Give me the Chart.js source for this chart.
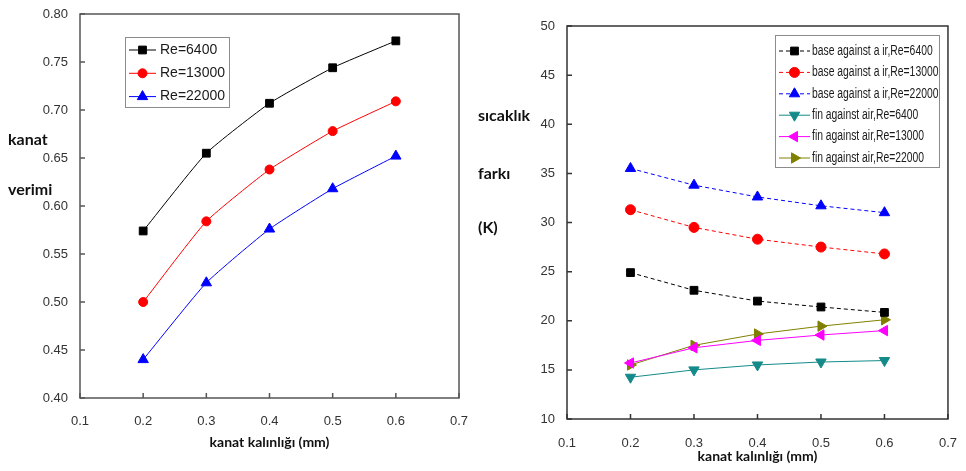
<!DOCTYPE html>
<html>
<head>
<meta charset="utf-8">
<script src="https://cdn.jsdelivr.net/npm/chart.js@4.4.1/dist/chart.umd.min.js"></script>
<style>
  body { margin: 0; background: #fff; }
  #wrap { position: relative; width: 966px; height: 471px; overflow: hidden; }
  canvas { position: absolute; top: 0; }
  #effChart { left: 0; }
  #tempChart { left: 480px; }
  .ytitle { position: absolute; font-family: Lato, 'Noto Sans', sans-serif; font-weight: bold; font-size: 16px; color: #111; line-height: 18px; }
</style>
</head>
<body>
<div id="wrap">
  <canvas id="effChart" width="480" height="471"></canvas>
  <canvas id="tempChart" width="486" height="471"></canvas>
  <div class="ytitle" style="left:8px; top:130px;">kanat</div>
  <div class="ytitle" style="left:8px; top:180px;">verimi</div>
  <div class="ytitle" style="left:478px; top:106px;">sıcaklık</div>
  <div class="ytitle" style="left:478px; top:164px;">farkı</div>
  <div class="ytitle" style="left:478px; top:218px;">(K)</div>
</div>
<script>
// fin thickness (mm) on the x axis of both plots
const thickness = [0.2, 0.3, 0.4, 0.5, 0.6];

// fin efficiency
const effLabels = ['Re=6400', 'Re=13000', 'Re=22000'];
const effRe6400 = [0.574, 0.655, 0.707, 0.744, 0.772];
const effRe13000 = [0.500, 0.584, 0.638, 0.678, 0.709];
const effRe22000 = [0.440, 0.520, 0.576, 0.618, 0.652];

// temperature difference (K)
const tempLabels = [
  'base against a ir,Re=6400', 'base against a ir,Re=13000', 'base against a ir,Re=22000',
  'fin against air,Re=6400', 'fin against air,Re=13000', 'fin against air,Re=22000'
];
const baseRe6400 = [24.9, 23.1, 22.0, 21.4, 20.85];
const baseRe13000 = [31.3, 29.5, 28.3, 27.5, 26.8];
const baseRe22000 = [35.5, 33.8, 32.6, 31.7, 31.0];
const finRe6400 = [14.25, 15.0, 15.5, 15.8, 15.95];
const finRe13000 = [15.7, 17.25, 18.0, 18.55, 19.0];
const finRe22000 = [15.5, 17.5, 18.65, 19.45, 20.1];

const tickFont = { family: "'Liberation Sans', Arial, sans-serif", size: 13 };
const titleFont = { family: "Lato, 'Noto Sans', sans-serif", size: 14, weight: 'bold' };

function series(label, values, color, style, extra) {
  return Object.assign({
    label: label,
    data: values.map((v, i) => ({ x: thickness[i], y: v })),
    borderColor: color,
    backgroundColor: color,
    borderWidth: 1,
    pointStyle: style,
    pointRadius: 5,
    pointRotation: 0,
    pointBorderWidth: 1,
    pointBackgroundColor: color,
    pointBorderColor: color,
    tension: 0
  }, extra || {});
}

// box around the plot, inward tick marks and a legend drawn inside the plot
const framePlugin = {
  id: 'frame',
  afterDraw(chart, args, opts) {
    const ctx = chart.ctx;
    const a = chart.chartArea;
    const xs = chart.scales.x, ys = chart.scales.y;
    ctx.save();
    ctx.strokeStyle = opts.axisColor;
    ctx.lineWidth = 1.5;
    ctx.strokeRect(a.left, a.top, a.right - a.left, a.bottom - a.top);
    ctx.beginPath();
    xs.ticks.forEach(t => {
      const px = xs.getPixelForValue(t.value);
      ctx.moveTo(px, a.bottom); ctx.lineTo(px, a.bottom - 5);
    });
    ys.ticks.forEach(t => {
      const py = ys.getPixelForValue(t.value);
      ctx.moveTo(a.left, py); ctx.lineTo(a.left + 5, py);
    });
    ctx.stroke();

    const lg = opts.legend;
    ctx.lineWidth = 1;
    ctx.strokeStyle = '#8c8c8c';
    ctx.strokeRect(lg.x + 0.5, lg.y + 0.5, lg.w, lg.h);
    chart.data.datasets.forEach((ds, i) => {
      const cy = lg.rowY + i * lg.rowStep;
      ctx.strokeStyle = ds.borderColor;
      ctx.setLineDash(ds.borderDash || []);
      ctx.beginPath(); ctx.moveTo(lg.x0, cy); ctx.lineTo(lg.x1, cy); ctx.stroke();
      ctx.setLineDash([]);
      ctx.fillStyle = ds.backgroundColor;
      Chart.helpers.drawPoint(ctx, {
        pointStyle: ds.pointStyle, radius: ds.pointRadius,
        rotation: ds.pointRotation, borderWidth: 1
      }, (lg.x0 + lg.x1) / 2, cy);
      ctx.fillStyle = '#1a1a1a';
      ctx.font = lg.font;
      ctx.textBaseline = 'middle';
      ctx.fillText(ds.label, lg.textX, cy, ctx.measureText(ds.label).width * lg.squeeze);
    });
    ctx.restore();
  }
};

function axes(xPad, titlePad, xHeight, yWidth, yMin, yMax, yStep, yDigits) {
  return {
    x: {
      type: 'linear', min: 0.1, max: 0.7,
      ticks: { stepSize: 0.1, padding: xPad, color: '#333', font: tickFont, callback: v => v.toFixed(1) },
      grid: { display: false }, border: { display: false },
      title: { display: true, text: 'kanat kalınlığı (mm)', color: '#111', font: titleFont, padding: { top: 0, bottom: titlePad } },
      afterFit: s => { s.height = xHeight; }
    },
    y: {
      min: yMin, max: yMax,
      ticks: { stepSize: yStep, padding: 4, color: '#333', font: tickFont, callback: v => v.toFixed(yDigits) },
      grid: { display: false }, border: { display: false },
      afterFit: s => { s.width = yWidth; }
    }
  };
}

new Chart(document.getElementById('effChart'), {
  type: 'line',
  data: {
    datasets: [
      series(effLabels[0], effRe6400, '#000000', 'rect', { pointRadius: 5.5, tension: 0.15 }),
      series(effLabels[1], effRe13000, '#ff0000', 'circle', { pointRadius: 4.5, tension: 0.15 }),
      series(effLabels[2], effRe22000, '#0000ff', 'triangle', { pointRadius: 6, tension: 0.15 })
    ]
  },
  options: {
    responsive: false, animation: false,
    layout: { padding: { top: 14, right: 21, left: 0, bottom: 0 } },
    scales: axes(8, 20, 73, 80, 0.4, 0.8, 0.05, 2),
    plugins: {
      legend: { display: false }, tooltip: { enabled: false },
      frame: {
        axisColor: '#555',
        legend: { x: 125, y: 37, w: 104, h: 70, x0: 129, x1: 156, textX: 160, rowY: 50, rowStep: 23.3,
                  font: "14px 'Liberation Sans', Arial, sans-serif", squeeze: 1 }
      }
    }
  },
  plugins: [framePlugin]
});

new Chart(document.getElementById('tempChart'), {
  type: 'line',
  data: {
    datasets: [
      series(tempLabels[0], baseRe6400, '#000000', 'rect', { pointRadius: 5.5, borderDash: [4, 3] }),
      series(tempLabels[1], baseRe13000, '#ff0000', 'circle', { pointRadius: 5, borderDash: [4, 3] }),
      series(tempLabels[2], baseRe22000, '#0000ff', 'triangle', { pointRadius: 6, borderDash: [4, 3] }),
      series(tempLabels[3], finRe6400, '#158a8a', 'triangle', { pointRadius: 6, pointRotation: 180 }),
      series(tempLabels[4], finRe13000, '#ff00ff', 'triangle', { pointRadius: 6, pointRotation: 270 }),
      series(tempLabels[5], finRe22000, '#808000', 'triangle', { pointRadius: 6, pointRotation: 90 })
    ]
  },
  options: {
    responsive: false, animation: false,
    layout: { padding: { top: 26, right: 11, left: 0, bottom: 0 } },
    scales: axes(9, 6, 52, 87, 10, 50, 5, 0),
    plugins: {
      legend: { display: false }, tooltip: { enabled: false },
      frame: {
        axisColor: '#333',
        legend: { x: 295, y: 35, w: 164, h: 132, x0: 299, x1: 330, textX: 332, rowY: 51, rowStep: 21.4,
                  font: "14px 'Liberation Sans', Arial, sans-serif", squeeze: 0.74 }
      }
    }
  },
  plugins: [framePlugin]
});
</script>
</body>
</html>
